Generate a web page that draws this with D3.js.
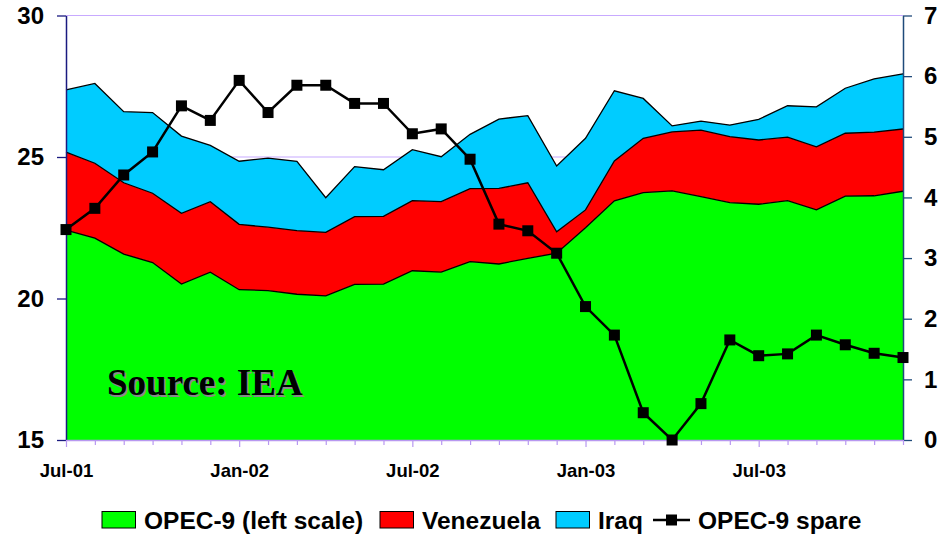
<!DOCTYPE html>
<html>
<head>
<meta charset="utf-8">
<script src="https://cdn.jsdelivr.net/npm/d3@7"></script>
<style>
  html, body { margin: 0; padding: 0; background: #fff; }
  svg { display: block; font-family: "Liberation Sans", Arial, sans-serif; }
</style>
</head>
<body>
<svg id="chart" width="945" height="538"></svg>
<script>
// Monthly categories, Jul 2001 – Dec 2003
const months = [
  "2001-07","2001-08","2001-09","2001-10","2001-11","2001-12",
  "2002-01","2002-02","2002-03","2002-04","2002-05","2002-06",
  "2002-07","2002-08","2002-09","2002-10","2002-11","2002-12",
  "2003-01","2003-02","2003-03","2003-04","2003-05","2003-06",
  "2003-07","2003-08","2003-09","2003-10","2003-11","2003-12"
];

// Crude output, mb/d (stacked, left scale)
const opec9 = [22.42,22.13,21.57,21.27,20.51,20.93,20.31,20.28,20.15,20.09,
               20.50,20.51,20.98,20.93,21.30,21.22,21.42,21.60,22.50,23.45,
               23.74,23.80,23.60,23.39,23.33,23.46,23.13,23.62,23.63,23.79];
const venezuela = [2.75,2.65,2.52,2.45,2.50,2.49,2.31,2.24,2.25,2.25,
                   2.39,2.39,2.48,2.49,2.58,2.67,2.67,0.76,0.63,1.41,
                   1.92,2.09,2.35,2.33,2.27,2.24,2.23,2.22,2.25,2.20];
const iraq = [2.20,2.82,2.51,2.85,2.73,1.99,2.23,2.44,2.45,1.22,
              1.77,1.65,1.80,1.59,1.92,2.45,2.37,2.32,2.53,2.48,
              1.41,0.21,0.32,0.41,0.73,1.11,1.41,1.59,1.88,1.95];

// OPEC-9 spare capacity, mb/d (right scale)
const spare = [3.47,3.82,4.37,4.75,5.51,5.27,5.93,5.40,5.85,5.85,
               5.55,5.55,5.05,5.13,4.63,3.56,3.45,3.08,2.20,1.73,
               0.45,0.00,0.60,1.65,1.39,1.42,1.73,1.57,1.43,1.36];

const seriesNames = ["OPEC-9 (left scale)", "Venezuela", "Iraq"];
const seriesColors = ["#00ff00", "#ff0000", "#00ccff"];
const spareName = "OPEC-9 spare";

const leftTicks = [15, 20, 25, 30];
const rightTicks = [0, 1, 2, 3, 4, 5, 6, 7];
const xTickLabels = { "2001-07": "Jul-01", "2002-01": "Jan-02", "2002-07": "Jul-02",
                      "2003-01": "Jan-03", "2003-07": "Jul-03" };

const svg = d3.select("#chart");
const plot = { left: 66, right: 903, top: 15.5, bottom: 440 };

const x = d3.scalePoint().domain(months).range([plot.left, plot.right]);
const y = d3.scaleLinear().domain([15, 30]).range([plot.bottom, plot.top]).clamp(true);
const y2 = d3.scaleLinear().domain([0, 7]).range([plot.bottom, plot.top]);

// gridlines
svg.append("g").selectAll("line").data(leftTicks.filter(t => t > 15)).join("line")
  .attr("x1", plot.left).attr("x2", plot.right)
  .attr("y1", d => y(d)).attr("y2", d => y(d))
  .attr("stroke", "#c8aaff").attr("stroke-width", 1.2);

// stacked areas
const rows = months.map((m, i) => ({ m, a: opec9[i], b: venezuela[i], c: iraq[i] }));
const stack = d3.stack().keys(["a", "b", "c"]);
const layers = stack(rows);

const area = d3.area()
  .x(d => x(d.data.m))
  .y0(d => y(d[0]))
  .y1(d => y(d[1]));
const topLine = d3.line()
  .x(d => x(d.data.m))
  .y(d => y(d[1]));

const areaG = svg.append("g");
layers.forEach((layer, k) => {
  areaG.append("path").datum(layer)
    .attr("d", area)
    .attr("fill", seriesColors[k]);
});
layers.forEach(layer => {
  areaG.append("path").datum(layer)
    .attr("d", topLine)
    .attr("fill", "none")
    .attr("stroke", "#000")
    .attr("stroke-width", 1.3);
});

// source note
const src = svg.append("g").attr("font-family", "'Liberation Serif', 'Times New Roman', serif")
  .attr("font-weight", "bold").attr("font-size", 37);
src.append("text").attr("x", 108.5).attr("y", 396.5).attr("fill", "#8a8a8a").text("Source: IEA");
src.append("text").attr("x", 107).attr("y", 395).attr("fill", "#000").text("Source: IEA");

// left axis
const leftAxis = svg.append("g").attr("transform", `translate(${plot.left},0)`)
  .call(d3.axisLeft(y).tickValues(leftTicks).tickSize(9).tickPadding(13).tickSizeOuter(0));
leftAxis.select(".domain").attr("stroke", "#1a1a80").attr("stroke-width", 1.5);
leftAxis.selectAll(".tick line").attr("stroke", "#1a1a80").attr("stroke-width", 1.3);
leftAxis.selectAll(".tick text").attr("font-size", 24).attr("font-weight", "bold")
  .attr("fill", "#000").attr("font-family", "'Liberation Sans', Arial, sans-serif");

// right axis
const rightAxis = svg.append("g").attr("transform", `translate(${plot.right},0)`)
  .call(d3.axisRight(y2).tickValues(rightTicks).tickFormat(d3.format("d"))
    .tickSize(9).tickPadding(12).tickSizeOuter(0));
rightAxis.select(".domain").attr("stroke", "#1f4a7a").attr("stroke-width", 1.5);
rightAxis.selectAll(".tick line").attr("stroke", "#1f4a7a").attr("stroke-width", 1.3);
rightAxis.selectAll(".tick text").attr("font-size", 24).attr("font-weight", "bold")
  .attr("fill", "#000").attr("font-family", "'Liberation Sans', Arial, sans-serif");

// bottom axis
const bottomAxis = svg.append("g").attr("transform", `translate(0,${plot.bottom})`)
  .call(d3.axisBottom(x).tickSize(5).tickSizeOuter(0).tickFormat(m => xTickLabels[m] || ""));
bottomAxis.select(".domain").attr("stroke", "#b898f0").attr("stroke-width", 1.5);
bottomAxis.selectAll(".tick line").attr("stroke", "#b898f0").attr("stroke-width", 1.2)
  .attr("y2", m => xTickLabels[m] ? 7 : 5);
bottomAxis.selectAll(".tick text").attr("font-size", 18.5).attr("font-weight", "bold")
  .attr("fill", "#000").attr("y", 24).attr("dy", "0.71em")
  .attr("font-family", "'Liberation Sans', Arial, sans-serif");

// spare capacity line
const spareLine = d3.line().x((d, i) => x(months[i])).y(d => y2(d));
svg.append("path").datum(spare)
  .attr("d", spareLine)
  .attr("fill", "none").attr("stroke", "#000").attr("stroke-width", 2.5);
svg.append("g").selectAll("rect").data(spare).join("rect")
  .attr("x", (d, i) => x(months[i]) - 5.5)
  .attr("y", d => y2(d) - 5.5)
  .attr("width", 11).attr("height", 11)
  .attr("fill", "#000");

// legend
const legend = svg.append("g").attr("font-size", 24.5).attr("font-weight", "bold");
const legendItems = [
  { name: seriesNames[0], color: seriesColors[0], x: 102 },
  { name: seriesNames[1], color: seriesColors[1], x: 380 },
  { name: seriesNames[2], color: seriesColors[2], x: 556 }
];
legendItems.forEach(it => {
  legend.append("rect").attr("x", it.x).attr("y", 511.5).attr("width", 33.5).attr("height", 16.5)
    .attr("fill", it.color).attr("stroke", "#000").attr("stroke-width", 1);
  legend.append("text").attr("x", it.x + 42).attr("y", 528.5).attr("fill", "#000").text(it.name);
});
legend.append("line").attr("x1", 653).attr("x2", 690).attr("y1", 520).attr("y2", 520)
  .attr("stroke", "#000").attr("stroke-width", 2.5);
legend.append("rect").attr("x", 666).attr("y", 514.5).attr("width", 11).attr("height", 11).attr("fill", "#000");
legend.append("text").attr("x", 698).attr("y", 528.5).attr("fill", "#000").text(spareName);
</script>
</body>
</html>
